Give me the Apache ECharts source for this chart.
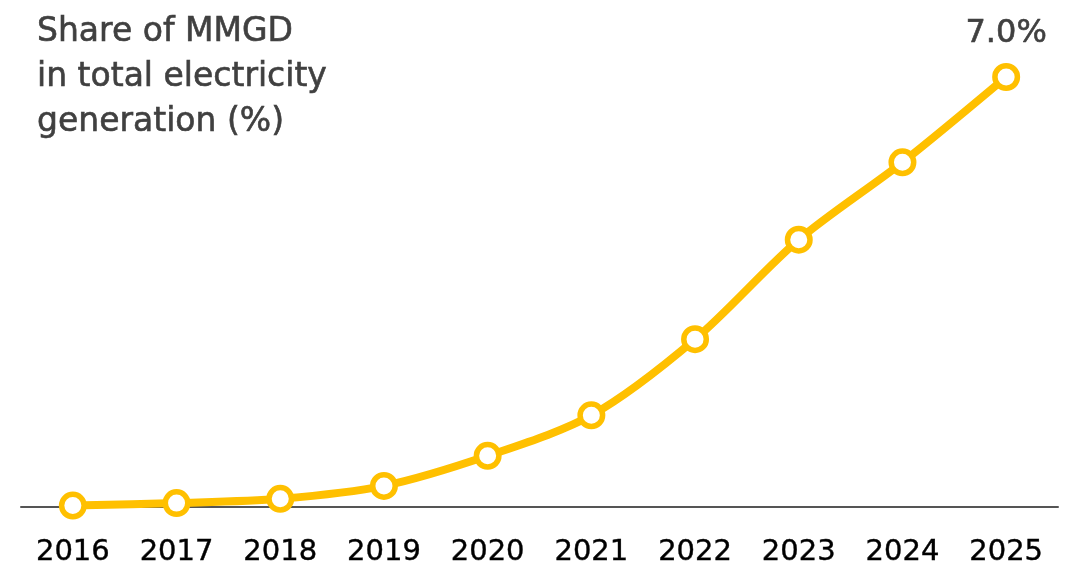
<!DOCTYPE html>
<html>
<head>
<meta charset="utf-8">
<style>
  html, body { margin: 0; padding: 0; background: #ffffff; }
  #chart { width: 1081px; height: 567px; }
</style>
<script src="https://cdn.jsdelivr.net/npm/echarts@6/dist/echarts.min.js"></script>
</head>
<body>
<div id="chart"></div>
<script>
// Share of MMGD in total electricity generation, 2016–2025 (%)
const years = ['2016', '2017', '2018', '2019', '2020', '2021', '2022', '2023', '2024', '2025'];
const shareValues = [0.02, 0.06, 0.13, 0.34, 0.83, 1.49, 2.73, 4.35, 5.61, 7.0];
const titleLines = ['Share of MMGD', 'in total electricity', 'generation (%)'];

const FONT = '"DejaVu Sans", "Noto Sans", sans-serif';
const TEXT_GREY = '#404040';
const chart = echarts.init(document.getElementById('chart'), null, { renderer: 'canvas' });

const lastIndex = shareValues.length - 1;

chart.setOption({
  animation: false,
  backgroundColor: '#ffffff',
  title: {
    text: titleLines.join('\n'),
    left: 32,
    top: 5,
    textStyle: {
      fontFamily: FONT,
      fontSize: 33,
      fontWeight: 'normal',
      color: TEXT_GREY,
      lineHeight: 45,
      textBorderColor: TEXT_GREY,
      textBorderWidth: 0.6
    }
  },
  grid: { left: 21, right: 23, top: 77, bottom: 59 },
  xAxis: {
    type: 'category',
    data: years,
    boundaryGap: true,
    axisLine: { show: true, lineStyle: { color: '#555555', width: 2 } },
    axisTick: { show: false },
    axisLabel: {
      fontFamily: FONT,
      fontSize: 29,
      color: '#000000',
      textBorderColor: '#000000',
      textBorderWidth: 0.4,
      margin: 31
    },
    splitLine: { show: false }
  },
  yAxis: {
    type: 'value',
    min: 0,
    max: 7,
    show: false,
    splitLine: { show: false }
  },
  series: [{
    type: 'line',
    data: shareValues.map((v, i) => ({
      value: v,
      label: {
        show: i === lastIndex,
        position: 'top',
        distance: 13,
        formatter: (p) => p.value.toFixed(1) + '%',
        fontFamily: FONT,
        fontSize: 32,
        color: TEXT_GREY,
        textBorderColor: TEXT_GREY,
        textBorderWidth: 0.6
      }
    })),
    smooth: 0.3,
    lineStyle: { color: '#FFC000', width: 8 },
    symbol: 'circle',
    symbolSize: 22.5,
    itemStyle: { color: '#ffffff', borderColor: '#FFC000', borderWidth: 5.5 },
    z: 3
  }]
});
</script>
</body>
</html>
